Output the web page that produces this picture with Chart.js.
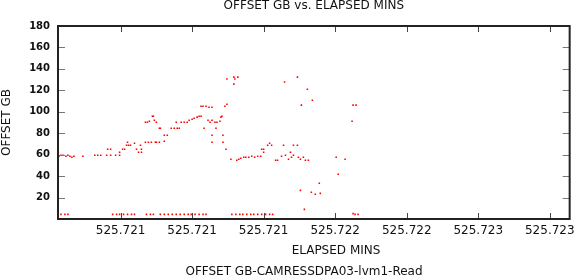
<!DOCTYPE html>
<html>
<head>
<meta charset="utf-8">
<script src="https://cdn.jsdelivr.net/npm/chart.js@4.4.1/dist/chart.umd.min.js"></script>
<style>
  html, body { margin: 0; padding: 0; background: #fff; }
  #wrap { width: 580px; height: 278px; }
</style>
</head>
<body>
<div id="wrap"><canvas id="offsetChart"></canvas></div>
<script>
// OFFSET (GB) against elapsed minutes
const elapsedMins = [
  525.72041, 525.72042, 525.72043, 525.720445, 525.720455, 525.720465, 525.720475, 525.720485,
  525.72053, 525.72059, 525.720605, 525.72062, 525.72065, 525.720655, 525.72067, 525.72067,
  525.720695, 525.720715, 525.720715, 525.72073, 525.72074, 525.72075, 525.720755, 525.72076,
  525.72077, 525.72079, 525.7208, 525.72081, 525.72082, 525.720825, 525.720825, 525.720845,
  525.720845, 525.720855, 525.72086, 525.720865, 525.720875, 525.72088, 525.720885, 525.72089,
  525.720895, 525.7209, 525.7209, 525.720915, 525.720915, 525.72092, 525.72094, 525.72094,
  525.720955, 525.720975, 525.72099, 525.721, 525.721005, 525.721015, 525.721025, 525.72104,
  525.721055, 525.721065, 525.72108, 525.72109, 525.721105, 525.721115, 525.721125, 525.721125,
  525.721135, 525.72114, 525.72115, 525.72116, 525.721165, 525.72117, 525.72118, 525.72118,
  525.72118, 525.72118, 525.721195, 525.7212, 525.721205, 525.72122, 525.721225, 525.72123,
  525.721235, 525.721235, 525.721245, 525.72125, 525.721255, 525.721255, 525.721275, 525.72129,
  525.72129, 525.721295, 525.721305, 525.72131, 525.721315, 525.721325, 525.72134, 525.72135,
  525.721365, 525.72138, 525.721395, 525.72141, 525.721425, 525.72143, 525.72144, 525.72144,
  525.72146, 525.72147, 525.72148, 525.7215, 525.72151, 525.72153, 525.72154, 525.721545,
  525.72155, 525.721565, 525.721575, 525.72158, 525.72159, 525.72159, 525.72161, 525.72161,
  525.721615, 525.721625, 525.721625, 525.72163, 525.72164, 525.721645, 525.72165, 525.72166,
  525.721665, 525.72168, 525.721685, 525.7217, 525.72172, 525.721725, 525.721805, 525.721815,
  525.72185, 525.721885, 525.72189, 525.721905
];
const offsetGb = [
  58.5, 59.4, 59.4, 58.5, 59.4, 58.5, 57.6, 58.5,
  58.5, 59.4, 59.4, 59.4, 59.4, 65.0, 59.4, 65.0,
  59.4, 59.4, 62.2, 65.0, 65.0, 68.8, 71.6, 68.8,
  68.8, 70.7, 65.0, 62.2, 68.8, 62.2, 65.0, 71.6,
  90.3, 90.3, 71.6, 91.2, 71.6, 95.9, 95.9, 92.1,
  71.6, 90.3, 71.6, 84.7, 71.6, 84.7, 72.5, 78.1,
  78.1, 84.7, 84.7, 90.3, 84.7, 84.7, 90.3, 90.3,
  90.3, 92.1, 93.1, 94.0, 95.0, 95.9, 95.9, 105.2,
  105.2, 84.7, 105.2, 92.1, 104.3, 90.3, 104.3, 92.1,
  78.1, 71.6, 90.3, 84.7, 90.3, 91.2, 95.0, 95.9,
  78.1, 71.6, 105.2, 65.0, 107.1, 130.5, 55.7, 132.3,
  125.8, 130.5, 54.8, 132.3, 55.7, 56.6, 57.6, 57.6,
  57.6, 58.5, 57.6, 58.5, 58.5, 65.0, 62.2, 65.0,
  68.8, 70.7, 68.8, 54.8, 54.8, 58.5, 68.8, 127.7,
  59.4, 55.7, 62.2, 57.6, 68.8, 59.4, 132.3, 68.8,
  57.6, 55.7, 26.7, 106.2, 57.6, 9.0, 54.8, 121.1,
  54.8, 24.9, 110.8, 23.0, 33.3, 23.9, 57.6, 41.7,
  55.7, 91.2, 106.2, 106.2
];

// the row of readings sitting just above zero
const floorMins = [
  525.72042, 525.72044, 525.720455, 525.72068, 525.7207, 525.720715, 525.720735, 525.720755,
  525.720775, 525.72079, 525.72085, 525.72087, 525.720885, 525.72092, 525.72094, 525.72096,
  525.72098, 525.721, 525.72102, 525.72104, 525.72106, 525.721075, 525.721095, 525.721115,
  525.721135, 525.72115, 525.72128, 525.7213, 525.72132, 525.721335, 525.721355, 525.721375,
  525.72139, 525.72141, 525.72143, 525.72145, 525.72147, 525.721485, 525.72189, 525.7219,
  525.721915
];
const floorGb = [
  4.3, 4.3, 4.3, 4.3, 4.3, 4.3, 4.3, 4.3,
  4.3, 4.3, 4.3, 4.3, 4.3, 4.3, 4.3, 4.3,
  4.3, 4.3, 4.3, 4.3, 4.3, 4.3, 4.3, 4.3,
  4.3, 4.3, 4.3, 4.3, 4.3, 4.3, 4.3, 4.3,
  4.3, 4.3, 4.3, 4.3, 4.3, 4.3, 5.0, 4.3,
  4.3
];

// axis ticks
const xTickValues = [525.72072, 525.72108, 525.72144, 525.7218, 525.72216, 525.72252, 525.72288];
const xTickLabels = ['525.721', '525.721', '525.721', '525.722', '525.722', '525.723', '525.723'];
const xMin = 525.720405, xMax = 525.72298;
const yMin = 0, yMax = 180, yStep = 20;

const chartTitle = 'OFFSET GB vs. ELAPSED MINS';
const xTitle = 'ELAPSED MINS';
const yTitle = 'OFFSET GB';
const caption = 'OFFSET GB-CAMRESSDPA03-lvm1-Read';

const FONT = '"DejaVu Sans", sans-serif';

// gnuplot style frame: border, inward ticks on all four sides, and the two bottom texts
const framePlugin = {
    id: 'frame',
    afterDraw(chart) {
        const { ctx, chartArea: a, scales: { x, y } } = chart;
        ctx.save();
        ctx.lineWidth = 1;
        ctx.strokeStyle = '#444';
        ctx.beginPath();
        x.ticks.forEach((t, i) => {
            const px = Math.round(x.getPixelForTick(i)) + 0.5;
            ctx.moveTo(px, a.bottom); ctx.lineTo(px, a.bottom - 6);
            ctx.moveTo(px, a.top); ctx.lineTo(px, a.top + 6);
        });
        ctx.stroke();
        ctx.strokeStyle = '#777';
        ctx.beginPath();
        y.ticks.forEach((t, i) => {
            if (t.value === yMin) return;
            const py = Math.round(y.getPixelForTick(i)) + 0.5;
            ctx.moveTo(a.left, py); ctx.lineTo(a.left + 7, py);
            ctx.moveTo(a.right, py); ctx.lineTo(a.right - 7, py);
        });
        ctx.stroke();
        ctx.strokeStyle = '#222';
        ctx.lineWidth = 2;
        ctx.strokeRect(a.left, a.top, a.right - a.left, a.bottom - a.top);

        ctx.fillStyle = '#111';
        ctx.font = '12px ' + FONT;
        ctx.textAlign = 'center';
        ctx.textBaseline = 'middle';
        ctx.fillText(xTitle, a.left + 278, 251);
        ctx.fillText(caption, a.left + 246, 272);
        ctx.restore();
    }
};

const pointStyle = {
    backgroundColor: '#ff0000',
    borderWidth: 0,
    pointStyle: 'rect',
    pointRadius: 1.1,
    pointHoverRadius: 1.1
};

new Chart(document.getElementById('offsetChart'), {
    type: 'scatter',
    data: {
        datasets: [
            { label: 'offset', data: elapsedMins.map((m, i) => ({ x: m, y: offsetGb[i] })), ...pointStyle },
            { label: 'floor', data: floorMins.map((m, i) => ({ x: m, y: floorGb[i] })), ...pointStyle }
        ]
    },
    options: {
        responsive: true,
        maintainAspectRatio: false,
        animation: false,
        events: [],
        layout: { padding: { left: 0, right: 7, top: 0, bottom: 0 } },
        scales: {
            x: {
                type: 'linear',
                min: xMin,
                max: xMax,
                afterBuildTicks: s => { s.ticks = xTickValues.map(v => ({ value: v })); },
                afterFit: s => { s.height = 59; },
                ticks: {
                    autoSkip: false,
                    maxRotation: 0,
                    padding: 5,
                    color: '#111',
                    font: { family: FONT, size: 12 },
                    callback: (v, i) => xTickLabels[i]
                },
                grid: { display: false, drawTicks: false },
                border: { display: false }
            },
            y: {
                min: yMin,
                max: yMax,
                afterFit: s => { s.width = 58; },
                ticks: {
                    stepSize: yStep,
                    padding: 8,
                    color: '#111',
                    font: { family: FONT, size: 10, weight: 'bold' },
                    callback: v => v === yMin ? '' : v
                },
                grid: { display: false, drawTicks: false },
                border: { display: false },
                title: {
                    display: true,
                    text: yTitle,
                    color: '#111',
                    padding: 0,
                    font: { family: FONT, size: 12 }
                }
            }
        },
        plugins: {
            legend: { display: false },
            tooltip: { enabled: false },
            title: {
                display: true,
                text: chartTitle,
                fullSize: false,
                color: '#111',
                padding: { top: 0, bottom: 14 },
                font: { family: FONT, size: 12, weight: 'normal', lineHeight: 1 }
            }
        }
    },
    plugins: [framePlugin]
});
</script>
</body>
</html>
